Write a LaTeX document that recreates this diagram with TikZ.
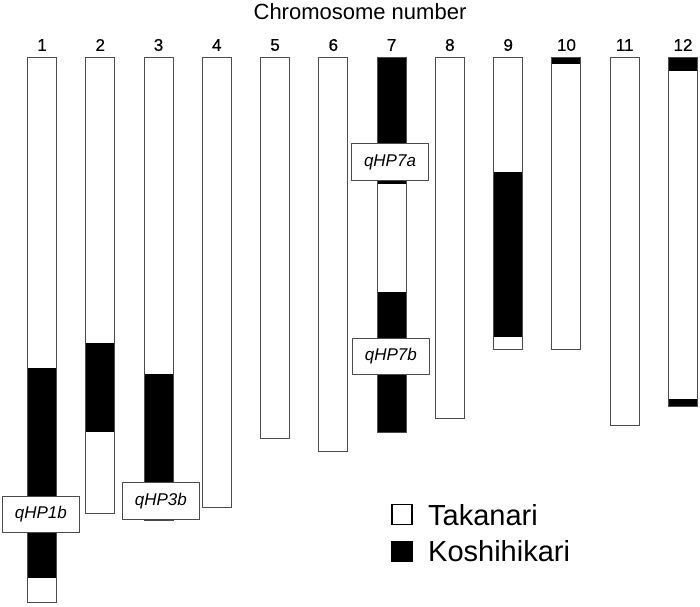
\documentclass[tikz,border=0pt]{standalone}
\usepackage{fontspec}
\setmainfont{Liberation Sans}
\usepackage{tikz}
\usetikzlibrary{positioning}

\begin{document}
\begin{tikzpicture}[
    x=1pt, y=-1pt,
    chrom/.style={draw=black!70, line width=0.9pt},
    kosh/.style={fill=black},
    num/.style={font=\fontsize{17}{17}\selectfont\addfontfeature{FakeBold=0.6}},
    qtl/.style={rectangle, draw=black!70, fill=white, line width=0.8pt, inner sep=0pt,
        minimum width=77pt, minimum height=36.5pt, font=\fontsize{17}{17}\selectfont\itshape},
    lgbox/.style={rectangle, draw=black, line width=1.2pt, minimum size=20pt, inner sep=0pt},
    lgtext/.style={anchor=base west, inner sep=0pt, font=\fontsize{29}{29}\selectfont}
]
    \useasboundingbox (0,0) rectangle (700,606);

    % Title
    \node[font=\fontsize{22}{22}\selectfont] (title) at (360,12) {Chromosome number};

    % Koshihikari segments
    \fill[kosh] (27.5,368.3) rectangle (56.5,578.3);
    \fill[kosh] (85.7,342.7) rectangle (114.7,432);
    \fill[kosh] (144,374.3) rectangle (173,520.7);
    \fill[kosh] (377.5,57) rectangle (406.5,184.3);
    \fill[kosh] (377.5,291.7) rectangle (406.5,432.3);
    \fill[kosh] (493.5,171.7) rectangle (522.5,336.7);
    \fill[kosh] (551.7,57) rectangle (580.7,64);
    \fill[kosh] (668.5,57) rectangle (697.5,70.7);
    \fill[kosh] (668.5,399.3) rectangle (697.5,406.7);

    % Chromosomes and numbers
    \foreach \i/\b in {1/602.7, 2/513.7, 3/520.7, 4/507.7, 5/438.3, 6/451,
                       7/432.3, 8/418.5, 9/349.3, 10/349.3, 11/425.3, 12/406.7} {
        \pgfmathsetmacro{\cx}{42+58.27*(\i-1)}
        \draw[chrom] (\cx-14.5,57) rectangle (\cx+14.5,\b);
        \node[num] (n\i) at (\cx,45) {\i};
    }

    % QTL labels
    \node[qtl] (qHP1b) at (40.8,514.5) {qHP1b};
    \node[qtl] (qHP3b) at (160.8,500.8) {qHP3b};
    \node[qtl] (qHP7a) at (390,162) {qHP7a};
    \node[qtl] (qHP7b) at (390.8,356.3) {qHP7b};

    % Legend
    \node[lgbox, fill=white] (takbox) at (402,514.5) {};
    \node[lgbox, fill=black] (kosbox) at (402,551.7) {};
    \node[lgtext] (tak) at (428,525) {Takanari};
    \node[lgtext] (kos) at (428,561.7) {Koshihikari};
\end{tikzpicture}
\end{document}
